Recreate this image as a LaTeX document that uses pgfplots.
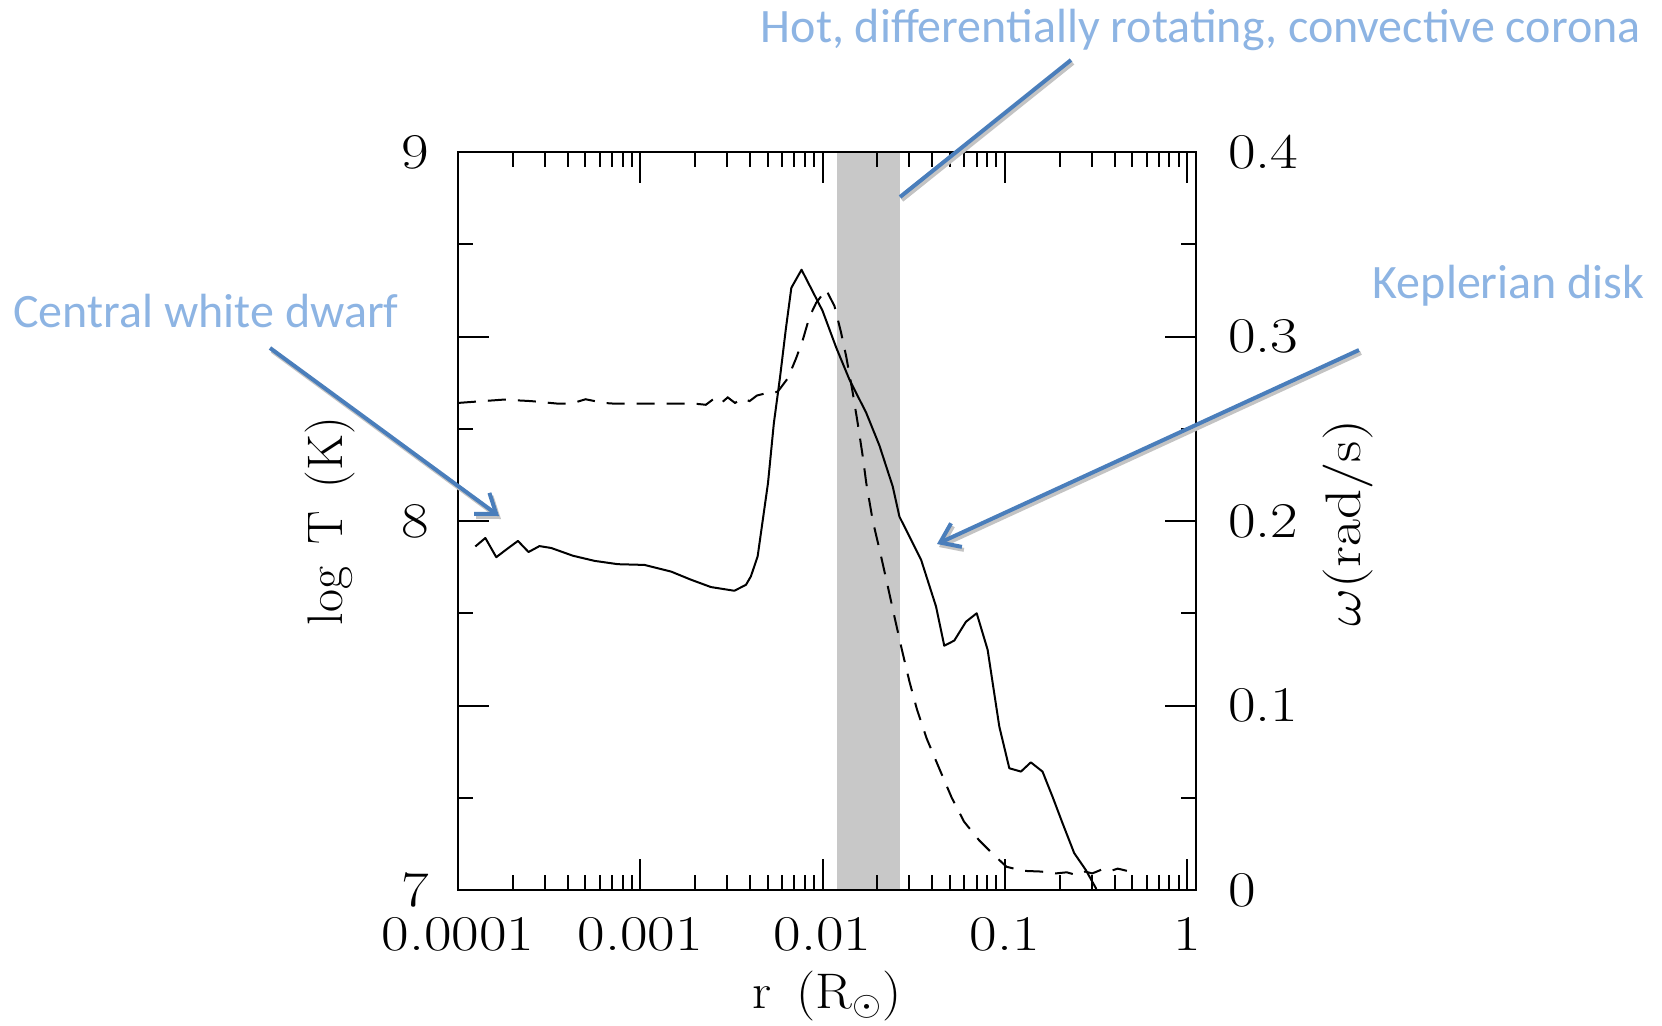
\documentclass[border=0pt]{standalone}
\usepackage{fontspec}
\usepackage{pgfplots}
\usepackage{pgfplotstable}
\pgfplotsset{compat=1.18}
\usetikzlibrary{arrows.meta}
\newfontfamily\calibri{Carlito}
\definecolor{annot}{RGB}{141,180,227}
\definecolor{arrowblue}{RGB}{74,126,187}
\definecolor{shadowgray}{RGB}{195,195,195}
\definecolor{bandgray}{RGB}{200,200,200}

\pgfplotstableread{
r T
1.245e-4 7.931
1.413e-4 7.954
1.622e-4 7.902
1.879e-4 7.926
2.133e-4 7.946
2.438e-4 7.916
2.799e-4 7.932
3.243e-4 7.927
4.266e-4 7.906
5.610e-4 7.892
7.534e-4 7.883
1.054e-3 7.881
1.476e-3 7.863
1.897e-3 7.841
2.443e-3 7.821
3.281e-3 7.811
3.802e-3 7.827
4.046e-3 7.850
4.406e-3 7.904
5.023e-3 8.103
5.408e-3 8.265
5.848e-3 8.390
6.295e-3 8.521
6.745e-3 8.632
7.674e-3 8.681
1.000e-2 8.570
1.189e-2 8.470
1.406e-2 8.383
1.738e-2 8.293
2.051e-2 8.205
2.427e-2 8.094
2.642e-2 8.012
3.475e-2 7.895
4.198e-2 7.768
4.656e-2 7.662
5.284e-2 7.676
6.124e-2 7.727
7.015e-2 7.750
8.054e-2 7.651
8.590e-2 7.560
9.333e-2 7.443
0.1059 7.330
0.1227 7.321
0.1390 7.346
0.1611 7.321
0.1828 7.253
0.2075 7.181
0.2404 7.100
0.2786 7.054
0.3162 7.005
0.3388 6.960
}\solid

\pgfplotstableread{
r T
1.000e-4 8.320
1.778e-4 8.329
2.512e-4 8.325
3.548e-4 8.318
4.169e-4 8.318
5.012e-4 8.330
6.310e-4 8.320
7.244e-4 8.318
1.995e-3 8.318
2.291e-3 8.315
2.512e-3 8.330
2.754e-3 8.318
3.020e-3 8.335
3.311e-3 8.320
3.631e-3 8.332
3.981e-3 8.325
4.365e-3 8.340
4.786e-3 8.345
5.248e-3 8.345
5.689e-3 8.351
6.457e-3 8.387
7.178e-3 8.442
7.798e-3 8.491
8.492e-3 8.554
9.226e-3 8.591
1.047e-2 8.627
1.164e-2 8.582
1.265e-2 8.510
1.349e-2 8.446
1.466e-2 8.347
1.560e-2 8.265
1.663e-2 8.175
1.738e-2 8.103
1.888e-2 8.000
2.061e-2 7.920
2.265e-2 7.830
2.483e-2 7.740
2.729e-2 7.650
2.999e-2 7.565
3.296e-2 7.490
3.733e-2 7.410
4.365e-2 7.330
5.117e-2 7.250
5.984e-2 7.185
7.228e-2 7.135
8.710e-2 7.095
0.1023 7.063
0.1259 7.052
0.1585 7.050
0.1905 7.045
0.2188 7.048
0.2455 7.041
0.2754 7.050
0.3020 7.045
0.3388 7.055
0.3715 7.050
0.4169 7.058
0.4677 7.052
}\dashed

\begin{document}
\begin{tikzpicture}
\path[use as bounding box] (0pt,0pt) rectangle (831pt,-512.5pt);
\begin{axis}[
  at={(229pt,-445pt)}, anchor=south west,
  scale only axis, width=369pt, height=369pt,
  xmode=log, xmin=1e-4, xmax=1.12, ymin=7, ymax=9,
  xtick={1e-4,1e-3,1e-2,1e-1,1},
  xticklabels={0.0001,0.001,0.01,0.1,1},
  minor xtick={2e-4,3e-4,4e-4,5e-4,6e-4,7e-4,8e-4,9e-4,
               2e-3,3e-3,4e-3,5e-3,6e-3,7e-3,8e-3,9e-3,
               2e-2,3e-2,4e-2,5e-2,6e-2,7e-2,8e-2,9e-2,
               2e-1,3e-1,4e-1,5e-1,6e-1,7e-1,8e-1,9e-1},
  ytick={7,7.5,8,8.5,9}, yticklabels={7,,8,,9},
  minor ytick={7.25,7.75,8.25,8.75},
  xtick pos=both, ytick pos=left,
  tick align=inside,
  major tick length=15.5pt, minor tick length=7.5pt,
  tick style={black, line width=1pt},
  axis line style={line width=1.2pt},
  tick label style={font=\fontsize{25}{30}\selectfont, xscale=1.2},
  xticklabel style={anchor=base, inner sep=0pt, yshift=-30pt},
  yticklabel style={anchor=base east, inner sep=0pt, xshift=-12pt, yshift=-8pt},
  axis on top,
]
\addplot[draw=none, fill=bandgray] coordinates {(0.01208,7) (0.02667,7) (0.02667,9) (0.01208,9)} -- cycle;
\addplot[black, line width=1pt, line join=round] table[x=r,y=T] {\solid};
\addplot[black, line width=1pt, dash pattern=on 9pt off 6pt] table[x=r,y=T] {\dashed};
\end{axis}
\begin{axis}[
  at={(229pt,-445pt)}, anchor=south west,
  scale only axis, width=369pt, height=369pt,
  xmode=log, xmin=1e-4, xmax=1.12, ymin=0, ymax=0.4,
  axis x line=none, axis y line*=right,
  ytick={0,0.1,0.2,0.3,0.4}, yticklabels={0,0.1,0.2,0.3,0.4},
  minor ytick={0.05,0.15,0.25,0.35},
  tick align=inside,
  major tick length=15.5pt, minor tick length=7.5pt,
  tick style={black, line width=1pt},
  axis line style={line width=1.2pt},
  tick label style={font=\fontsize{25}{30}\selectfont, xscale=1.2},
  yticklabel style={anchor=base west, inner sep=0pt, xshift=13.3pt, yshift=-8pt},
]
\addplot[draw=none] coordinates {(0.001,0.2)};
\end{axis}
\begin{scope}[x=0.5pt,y=0.5pt]
% axis titles
\node[rotate=90, anchor=base, inner sep=0pt, font=\fontsize{25}{30}\selectfont] at (342,-521) {log\hspace{0.45em}T\hspace{0.45em}(K)};
\node[rotate=90, anchor=base, inner sep=0pt, font=\fontsize{25}{30}\selectfont] at (1360,-523) {\scalebox{1.18}[1]{$\omega$(rad/s)}};
\node[anchor=base, inner sep=0pt, font=\fontsize{25}{30}\selectfont] at (827,-1008) {\scalebox{1.08}[1]{r\hspace{0.45em}(R$_\odot$)}};
% annotations
\node[anchor=base east, inner sep=0pt, text=annot, font=\calibri\fontsize{24}{28}\selectfont] at (1641,-42) {Hot, differentially rotating, convective corona};
\node[anchor=base east, inner sep=0pt, text=annot, font=\calibri\fontsize{24}{28}\selectfont] at (1645,-298) {Keplerian disk};
\node[anchor=base west, inner sep=0pt, text=annot, font=\calibri\fontsize{24}{28}\selectfont] at (13,-327) {Central white dwarf};
% shadows
\begin{scope}[shift={(2,-3)}, shadowgray, line width=2pt, line join=miter]
\draw (1071,-60) -- (900,-197);
\draw[-{Straight Barb[length=9pt,width=13pt]}] (270,-348) -- (499,-516);
\draw[-{Straight Barb[length=9pt,width=13pt]}] (1359,-350) -- (937,-544);
\end{scope}
\begin{scope}[arrowblue, line width=2pt, line join=miter]
\draw (1071,-60) -- (900,-197);
\draw[-{Straight Barb[length=9pt,width=13pt]}] (270,-348) -- (499,-516);
\draw[-{Straight Barb[length=9pt,width=13pt]}] (1359,-350) -- (937,-544);
\end{scope}
\end{scope}
\end{tikzpicture}
\end{document}
